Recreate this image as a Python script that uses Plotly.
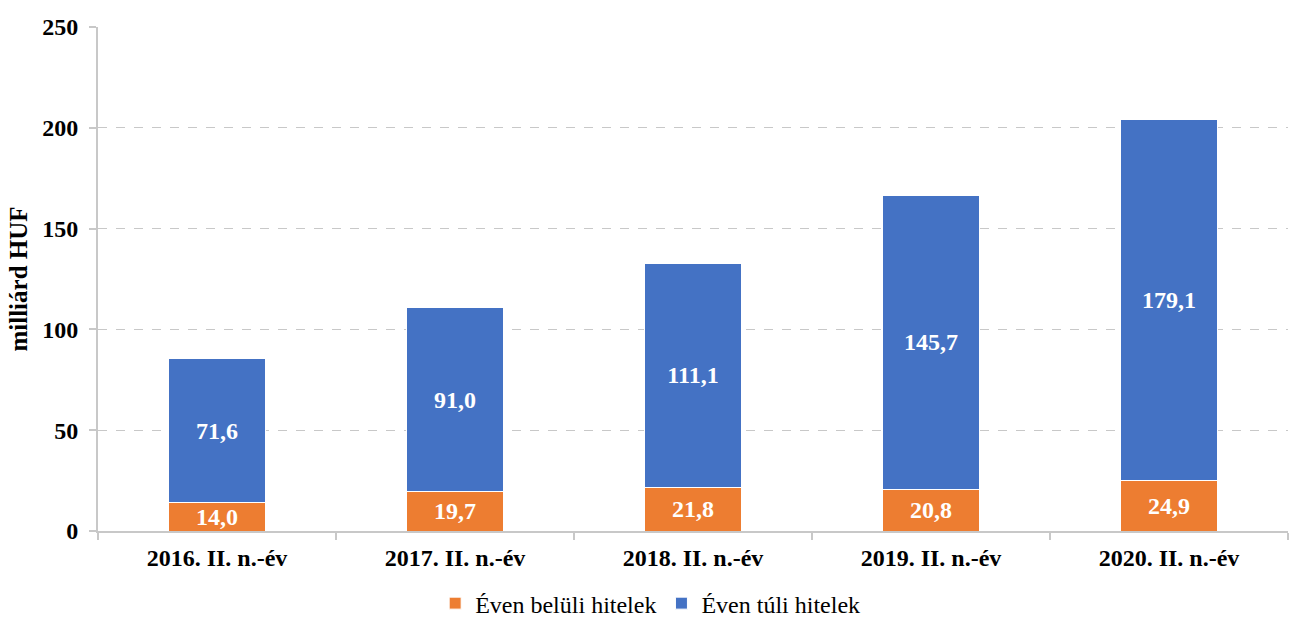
import plotly.graph_objects as go

categories = ["2016. II. n.-év", "2017. II. n.-év", "2018. II. n.-év", "2019. II. n.-év", "2020. II. n.-év"]
within_year = [14.0, 19.7, 21.8, 20.8, 24.9]
beyond_year = [71.6, 91.0, 111.1, 145.7, 179.1]
y_ticks = [0, 50, 100, 150, 200, 250]

def fmt(v):
    return f"{v:.1f}".replace(".", ",")

FONT = "Liberation Serif, Times New Roman, serif"

fig = go.Figure()
fig.add_trace(go.Bar(
    x=categories, y=within_year, name="Éven belüli hitelek",
    marker=dict(color="#ED7D31", line=dict(color="#FFFFFF", width=1)),
    text=[fmt(v) for v in within_year], textposition="inside",
    insidetextanchor="middle", constraintext="none",
    textfont=dict(family=FONT, size=24, color="white", weight="bold"),
    width=0.405,
))
fig.add_trace(go.Bar(
    x=categories, y=beyond_year, name="Éven túli hitelek",
    marker=dict(color="#4472C4", line=dict(color="#FFFFFF", width=1)),
    text=[fmt(v) for v in beyond_year], textposition="inside",
    insidetextanchor="middle", constraintext="none",
    textfont=dict(family=FONT, size=24, color="white", weight="bold"),
    width=0.405,
))

fig.update_layout(
    barmode="stack",
    width=1291, height=619,
    margin=dict(l=98, r=3, t=27, b=88, autoexpand=False),
    plot_bgcolor="white", paper_bgcolor="white",
    font=dict(family=FONT, color="black"),
    showlegend=True,
    legend=dict(orientation="h", x=0.464, xanchor="center", yref="container", y=0.025, yanchor="middle",
                font=dict(family=FONT, size=24, color="black"), traceorder="normal",
                itemwidth=30, tracegroupgap=0),
    xaxis=dict(
        showline=True, linecolor="#C8C8C8", linewidth=2,
        ticks="outside", tickson="boundaries", ticklen=7, tickcolor="#C8C8C8", tickwidth=2,
        tickfont=dict(family=FONT, size=24, color="black", weight="bold"),
        ticklabelstandoff=4,
        showgrid=False,
    ),
    yaxis=dict(
        range=[0, 250], tickvals=y_ticks,
        showline=True, linecolor="#C8C8C8", linewidth=2,
        ticks="outside", ticklen=7, tickcolor="#C8C8C8", tickwidth=2,
        tickfont=dict(family=FONT, size=24, color="black", weight="bold"),
        ticklabelstandoff=6,
        showgrid=True, gridcolor="#C8C8C8", griddash="dash", gridwidth=1,
        zeroline=False,
        title=dict(text="milliárd HUF", font=dict(family=FONT, size=25, color="black", weight="bold"), standoff=7),
    ),
)

fig.write_html("out.html", config={"displayModeBar": False},
               post_script="document.body.style.margin='0px';document.body.style.overflow='hidden';")
